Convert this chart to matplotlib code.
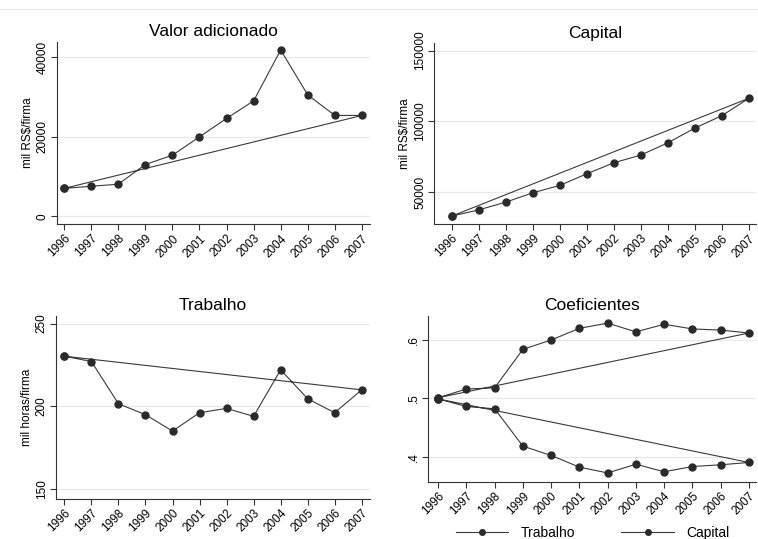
import matplotlib.pyplot as plt
from matplotlib.lines import Line2D

plt.rcParams['font.family'] = ['Liberation Sans', 'DejaVu Sans']

years = [1996, 1997, 1998, 1999, 2000, 2001, 2002, 2003, 2004, 2005, 2006, 2007]
valor = [7000, 7550, 8050, 13000, 15350, 19950, 24600, 29000, 41800, 30500, 25350, 25350]
capital = [33300, 37700, 43150, 49750, 54950, 63150, 70900, 76350, 85050, 95400, 104200, 116450]
trabalho = [230.3, 227.1, 201.6, 195.0, 185.1, 196.2, 198.8, 194.0, 222.1, 204.6, 196.2, 210.0]
coef_trab = [0.499, 0.486, 0.482, 0.418, 0.402, 0.382, 0.372, 0.387, 0.374, 0.383, 0.386, 0.390]
coef_cap = [0.501, 0.516, 0.518, 0.584, 0.600, 0.620, 0.629, 0.614, 0.627, 0.619, 0.617, 0.612]

line_col = '#3a3a3a'
mark_col = '#2a2a2a'


def closed(xs, ys):
    # stata connects the last point back to the first one
    return xs + [xs[0]], ys + [ys[0]]


def draw(ax, ys, title, yticks, yticklabels, ylim, xlim, ylabel=None):
    x, y = closed(years, ys)
    ax.plot(x, y, color=line_col, lw=0.8, marker='o', ms=5,
            mfc=mark_col, mec=mark_col, zorder=3)
    ax.set_title(title, fontsize=12.5, pad=4)
    ax.set_xlim(*xlim)
    ax.set_ylim(*ylim)
    ax.set_xticks(years)
    ax.set_xticklabels([str(v) for v in years], rotation=45, ha='right',
                       rotation_mode='anchor', fontsize=8.5)
    ax.set_yticks(yticks)
    ax.set_yticklabels(yticklabels, rotation=90, va='center', fontsize=8.5)
    ax.grid(axis='y', color='#e8e8e8', lw=0.8, zorder=0)
    for s in ['top', 'right']:
        ax.spines[s].set_visible(False)
    for s in ['left', 'bottom']:
        ax.spines[s].set_color('#333333')
        ax.spines[s].set_linewidth(0.8)
    ax.tick_params(length=4, width=0.8, color='#333333', pad=2)
    if ylabel:
        ax.set_ylabel(ylabel, fontsize=8.5, labelpad=2)
    return ax


fig = plt.figure(figsize=(7.58, 5.39), dpi=100)

ax1 = fig.add_axes([0.0752, 0.584, 0.413, 0.338])
draw(ax1, valor, 'Valor adicionado', [0, 20000, 40000], ['0', '20000', '40000'],
     (-2000, 43800), (1995.74, 2007.3), 'mil RS$/firma')

ax2 = fig.add_axes([0.573, 0.584, 0.425, 0.336])
draw(ax2, capital, 'Capital', [50000, 100000, 150000], ['50000', '100000', '150000'],
     (27600, 155200), (1995.36, 2007.27), 'mil RS$/firma')

ax3 = fig.add_axes([0.0739, 0.0748, 0.414, 0.339])
draw(ax3, trabalho, 'Trabalho', [150, 200, 250], ['150', '200', '250'],
     (144.3, 254.6), (1995.69, 2007.3), 'mil horas/firma')

ax4 = fig.add_axes([0.565, 0.1063, 0.433, 0.308])
draw(ax4, coef_trab, 'Coeficientes', [0.4, 0.5, 0.6], ['.4', '.5', '.6'],
     (0.357, 0.6417), (1995.65, 2007.27))
x, y = closed(years, coef_cap)
ax4.plot(x, y, color=line_col, lw=0.8, marker='o', ms=5,
         mfc=mark_col, mec=mark_col, zorder=3)

handles = [Line2D([], [], color=line_col, lw=0.8, marker='o', ms=4,
                  mfc=mark_col, mec=mark_col) for _ in range(2)]
fig.legend(handles, ['Trabalho', 'Capital'], loc='center', ncol=2,
           bbox_to_anchor=(0.782, 0.011), frameon=False, fontsize=10,
           handlelength=3.8, handletextpad=0.9, columnspacing=3.3,
           borderpad=0, borderaxespad=0)

# faint border line at the top of the graph region
fig.add_artist(Line2D([0, 1], [1 - 9 / 539, 1 - 9 / 539], color='#e6e6e6', lw=0.8))

fig.savefig('out.png', dpi=100)
